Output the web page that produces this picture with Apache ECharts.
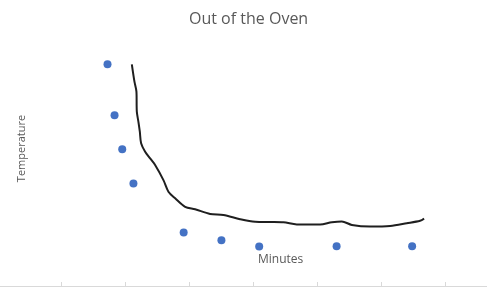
<!DOCTYPE html>
<html>
<head>
<meta charset="utf-8">
<script src="https://cdn.jsdelivr.net/npm/echarts@6/dist/echarts.min.js"></script>
<style>
html,body{margin:0;padding:0;background:#fff;}
#chart{width:487px;height:288px;}
</style>
</head>
<body>
<div id="chart"></div>
<script>
// Data
var pointMinutes = [17.2, 18.3, 19.5, 21.25, 29.1, 35.0, 40.9, 53.0, 64.8];
var pointTemps   = [80.6, 62.1, 49.7, 37.3, 19.5, 16.6, 14.4, 14.5, 14.5];
// hand-drawn trend curve, read point by point
var curveMinutes = [21.0, 21.41, 21.72, 21.78, 22.03, 22.25, 22.45, 23.08, 23.86, 24.64, 25.94, 26.72, 27.77, 29.33, 30.89, 33.23, 35.31, 37.92, 40.27, 42.61, 44.69, 46.78, 50.42, 52.25, 53.81, 55.38, 58.23, 61.36, 63.97, 66.05, 66.67];
var curveTemps   = [80.6, 74.3, 70.7, 63.4, 59.7, 56.1, 51.9, 48.8, 46.4, 44.0, 38.5, 34.3, 31.9, 28.8, 27.9, 26.2, 25.8, 24.3, 23.4, 23.3, 23.2, 22.4, 22.4, 23.2, 23.5, 22.2, 21.6, 21.8, 22.8, 23.7, 24.5];
var xTickValues = [10, 20, 30, 40, 50, 60, 70];

var scatterData = pointMinutes.map(function (m, i) { return [m, pointTemps[i]]; });
var curveData = curveMinutes.map(function (m, i) { return [m, curveTemps[i]]; });

var chart = echarts.init(document.getElementById('chart'), null, {renderer: 'canvas'});
chart.setOption({
  animation: false,
  backgroundColor: '#ffffff',
  title: [{
    text: 'Out of the Oven',
    left: 189,
    top: 11,
    padding: 0,
    textStyle: {fontFamily: 'Open Sans', fontSize: 16, fontWeight: 'normal', color: '#595959'}
  }, {
    text: 'Minutes',
    left: 258,
    top: 254,
    padding: 0,
    textStyle: {fontFamily: 'Open Sans', fontSize: 12, fontWeight: 'normal', color: '#595959'}
  }],
  grid: {left: 0, right: 0, top: 11, bottom: 2, containLabel: false},
  xAxis: {
    type: 'value',
    min: 0.4,
    max: 76.5,
    axisLine: {show: true, lineStyle: {color: '#d9d9d9', width: 1}},
    axisTick: {show: true, inside: true, length: 4, customValues: xTickValues, lineStyle: {color: '#d9d9d9'}},
    axisLabel: {show: false},
    splitLine: {show: false}
  },
  yAxis: {
    type: 'value',
    min: 0,
    max: 100,
    name: 'Temperature',
    nameLocation: 'middle',
    nameRotate: 90,
    nameGap: -27,
    nameTextStyle: {fontFamily: 'Open Sans', fontSize: 11, color: '#595959'},
    axisLine: {show: false},
    axisTick: {show: false},
    axisLabel: {show: false},
    splitLine: {show: false}
  },
  series: [{
    type: 'scatter',
    data: scatterData,
    symbol: 'circle',
    symbolSize: 8,
    itemStyle: {color: '#4472C4', opacity: 1},
    z: 3
  }, {
    type: 'line',
    data: curveData,
    showSymbol: false,
    smooth: 0.3,
    lineStyle: {color: '#1f1f1f', width: 2},
    z: 2
  }]
});
</script>
</body>
</html>
